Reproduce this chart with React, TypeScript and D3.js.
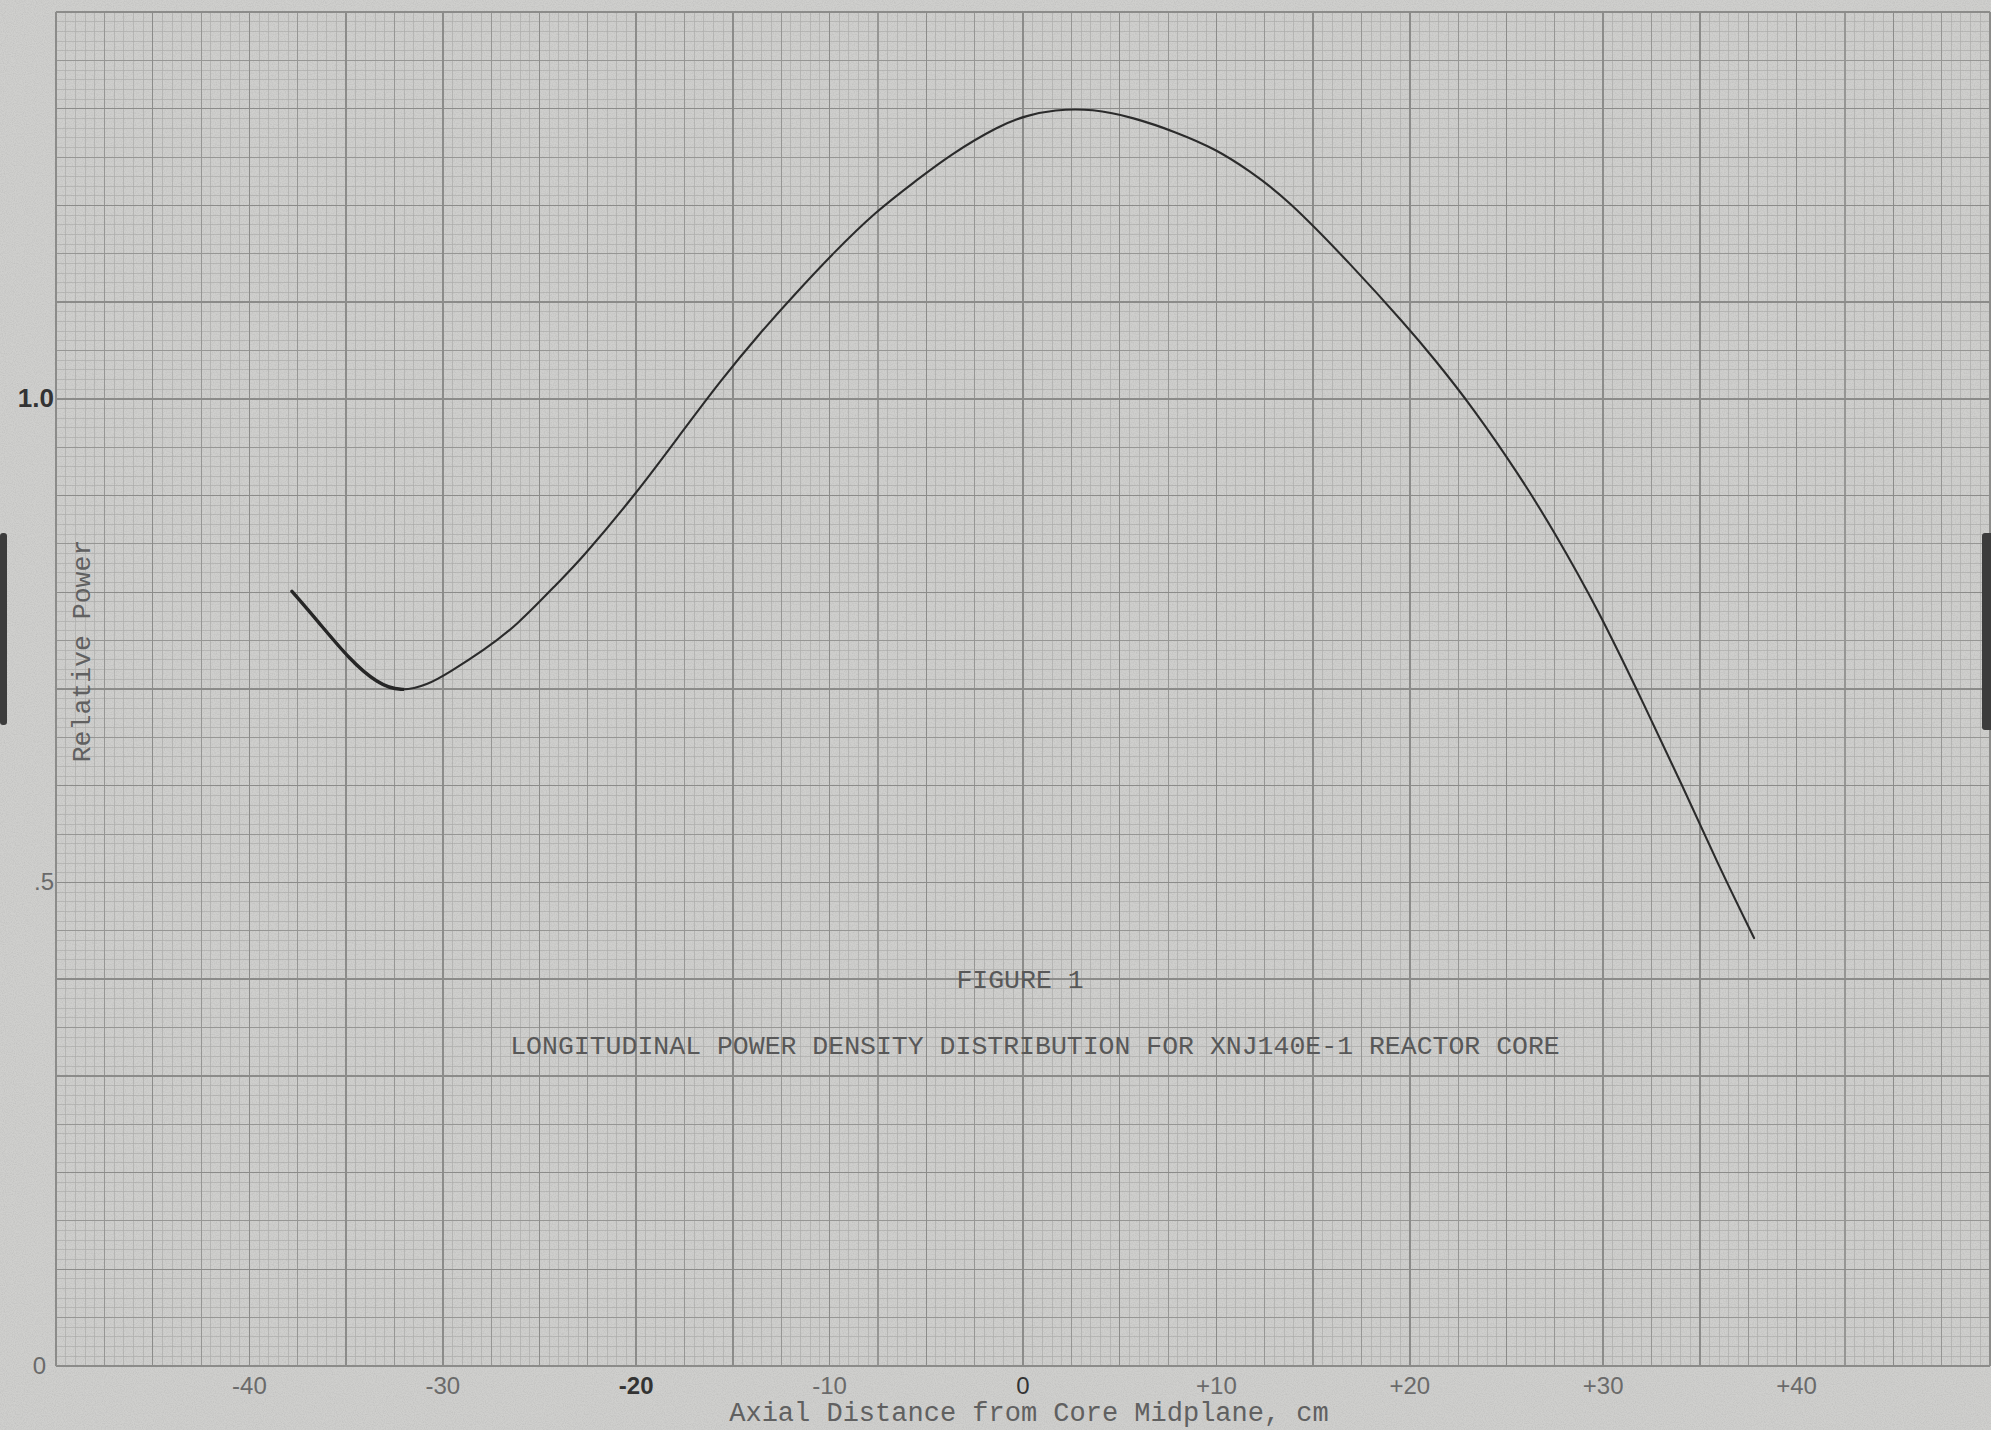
import React, { useEffect } from "react";
import * as d3 from "d3";

// axial position (cm) and relative power
const xCm = [-37.8, -36.5, -34.8, -33.4, -32.2, -30.8, -29.6, -27.9, -26.2, -23.9, -22.9, -20.0, -17.7, -15.6, -13.6, -11.9, -9.8, -7.6, -5.5, -3.8, -1.2, 0.2, 1.6, 3.6, 5.7, 7.9, 10.0, 11.7, 13.6, 17.1, 19.8, 21.2, 23.3, 25.7, 27.4, 29.8, 32.2, 34.1, 35.9, 37.8];
const power = [0.801, 0.771, 0.73, 0.706, 0.697, 0.704, 0.718, 0.74, 0.765, 0.813, 0.833, 0.902, 0.964, 1.02, 1.068, 1.106, 1.151, 1.194, 1.226, 1.252, 1.283, 1.293, 1.299, 1.3, 1.291, 1.276, 1.258, 1.236, 1.208, 1.136, 1.076, 1.043, 0.99, 0.92, 0.865, 0.78, 0.68, 0.6, 0.52, 0.4425];

const xTicks = [-40, -30, -20, -10, 0, 10, 20, 30, 40];
const xTickLabels = ["-40", "-30", "-20", "-10", "0", "+10", "+20", "+30", "+40"];
const yTicks = [0, 0.5, 1.0];
const yTickLabels = ["0", ".5", "1.0"];

const W = 1991, H = 1430;
const left = 56, top = 12, right = 1990, bottom = 1366;
const typeFont = "'Liberation Mono', 'Courier New', monospace";

export default function App() {
  useEffect(() => {
    document.body.style.margin = "0";
  }, []);

  const x = d3.scaleLinear().domain([-50, 50]).range([left, right]);
  const y = d3.scaleLinear().domain([0, 1.4]).range([bottom, top]);

  // graph paper: 10 lines per inch, accent every half inch and inch
  const vLines = d3.range(-50, 50.01, 0.5);
  const hLines = d3.range(0, 1.4001, 0.01);
  const vKind = (v: number) => {
    const r = Math.round(v * 2);
    if (r % 10 === 0) return 2;
    if (r % 5 === 0) return 1;
    return 0;
  };
  const hKind = (v: number) => {
    const r = Math.round(v * 100);
    if (r % 10 === 0) return 2;
    if (r % 5 === 0) return 1;
    return 0;
  };
  const gridStroke = ["#aeaeac", "#969694", "#8b8b89"];
  const gridWidth = [0.7, 1.1, 1.5];

  const pts = xCm.map((d, i) => [d, power[i]] as [number, number]);
  const line = d3
    .line<[number, number]>()
    .x((d) => x(d[0]))
    .y((d) => y(d[1]))
    .curve(d3.curveBasis);
  const curvePath = line(pts) ?? "";

  return (
    <svg width={W} height={H} style={{ position: "absolute", left: 0, top: 0, display: "block" }}>
      <defs>
        <filter id="paper" x="0" y="0" width="100%" height="100%">
          <feTurbulence type="fractalNoise" baseFrequency="0.9" numOctaves="2" seed="3" />
          <feColorMatrix type="matrix" values="0 0 0 0 0.3  0 0 0 0 0.3  0 0 0 0 0.3  0 0 0 1.2 -0.45" />
        </filter>
        {/* left branch of the curve is inked heavier */}
        <clipPath id="heavy">
          <rect x={0} y={0} width={x(-32)} height={H} />
        </clipPath>
      </defs>
      <rect x={0} y={0} width={W} height={H} fill="#cfcfcd" />

      {/* grid */}
      <g shapeRendering="crispEdges">
        {[0, 1, 2].map((k) => (
          <g key={k}>
            {vLines.filter((v) => vKind(v) === k).map((v) => (
              <line key={"v" + v} x1={x(v)} x2={x(v)} y1={top} y2={bottom} stroke={gridStroke[k]} strokeWidth={gridWidth[k]} />
            ))}
            {hLines.filter((v) => hKind(v) === k).map((v) => (
              <line key={"h" + v} x1={left} x2={right} y1={y(v)} y2={y(v)} stroke={gridStroke[k]} strokeWidth={gridWidth[k]} />
            ))}
          </g>
        ))}
      </g>
      <rect x={0} y={0} width={W} height={H} filter="url(#paper)" opacity={0.35} />

      {/* binder shadows at the edges */}
      <rect x={0} y={533} width={7} height={192} rx={3} fill="#3c3c3c" />
      <rect x={1982} y={533} width={12} height={197} rx={3} fill="#3c3c3c" />

      {/* curve */}
      <path d={curvePath} fill="none" stroke="#2b2b2b" strokeWidth={2.1} strokeLinejoin="round" strokeLinecap="round" />
      <path d={curvePath} clipPath="url(#heavy)" fill="none" stroke="#262626" strokeWidth={3.4} strokeLinecap="round" />

      {/* tick labels */}
      {xTicks.map((t, i) => (
        <text key={t} x={x(t)} y={1394} textAnchor="middle" fontFamily="'Liberation Sans', Arial, sans-serif"
          fontSize={24} fontWeight={t === -20 ? "bold" : "normal"} fill={t === -20 || t === 0 ? "#333" : "#6a6a6a"}>
          {xTickLabels[i]}
        </text>
      ))}
      {yTicks.map((t, i) => (
        <text key={t} x={t === 0 ? 46 : left - 2} y={y(t) + 8} textAnchor="end" fontFamily="'Liberation Sans', Arial, sans-serif"
          fontSize={t === 1 ? 26 : 24} fontWeight={t === 1 ? "bold" : "normal"} fill={t === 1 ? "#333" : "#6a6a6a"}>
          {yTickLabels[i]}
        </text>
      ))}

      {/* axis titles */}
      <text x={1029} y={1421} textAnchor="middle" fontFamily={typeFont} fontSize={27} fill="#606060">
        Axial Distance from Core Midplane, cm
      </text>
      <text transform="translate(90,651) rotate(-90)" textAnchor="middle" fontFamily={typeFont} fontSize={26.5} fill="#606060">
        Relative Power
      </text>

      {/* figure caption */}
      <text x={1020} y={988} textAnchor="middle" fontFamily={typeFont} fontSize={26.5} fill="#585858">
        FIGURE 1
      </text>
      <text x={1035} y={1054} textAnchor="middle" fontFamily={typeFont} fontSize={26.5} fill="#585858">
        LONGITUDINAL POWER DENSITY DISTRIBUTION FOR XNJ140E-1 REACTOR CORE
      </text>
    </svg>
  );
}
